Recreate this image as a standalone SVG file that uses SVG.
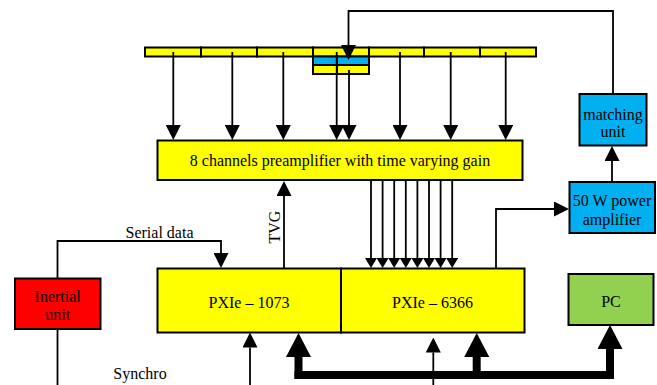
<svg xmlns="http://www.w3.org/2000/svg" width="657" height="385" viewBox="0 0 657 385">
<style>
.box{stroke:#000;stroke-width:2}
.y{fill:#FFFF00}
.b{fill:#00B0F0}
.r{fill:#FF0000}
.g{fill:#92D050}
.ln{fill:none;stroke:#000;stroke-width:1.8}
.thick{fill:none;stroke:#000;stroke-width:8}
text{font-family:"Liberation Serif","Times New Roman",serif;font-size:16px;fill:#000;text-anchor:middle}
</style>
<defs>
<marker id="a" markerUnits="userSpaceOnUse" markerWidth="15" markerHeight="15" refX="0" refY="7.5" orient="auto" viewBox="0 0 15 15"><path d="M0,0 L15,7.5 L0,15 z" fill="#000"/></marker>
<marker id="s" markerUnits="userSpaceOnUse" markerWidth="10" markerHeight="12" refX="0" refY="6" orient="auto" viewBox="0 0 10 12"><path d="M0,0 L10,6 L0,12 z" fill="#000"/></marker>
<marker id="t" markerUnits="userSpaceOnUse" markerWidth="24" markerHeight="25" refX="0" refY="12.5" orient="auto" viewBox="0 0 24 25"><path d="M0,0 L24,12.5 L0,25 z" fill="#000"/></marker>
</defs>

<g id="array">
<rect class="box y" x="145" y="47.5" width="56" height="9"/>
<rect class="box y" x="201" y="47.5" width="56" height="9"/>
<rect class="box y" x="257" y="47.5" width="56" height="9"/>
<rect class="box y" x="313" y="47.5" width="56" height="9"/>
<rect class="box y" x="369" y="47.5" width="55" height="9"/>
<rect class="box y" x="424" y="47.5" width="56" height="9"/>
<rect class="box y" x="480" y="47.5" width="56" height="9"/>
<rect class="box b" x="313" y="56.5" width="24" height="8.5"/>
<rect class="box b" x="337" y="56.5" width="32" height="8.5"/>
<rect class="box y" x="313" y="65" width="24" height="9"/>
<rect class="box y" x="337" y="65" width="32" height="9"/>
</g>

<g id="preamp">
<rect class="box y" x="157.5" y="140.5" width="365" height="39.5"/>
<text x="340" y="165.5">8 channels preamplifier with time varying gain</text>
</g>

<g id="matching">
<rect class="box b" x="579.5" y="94" width="67" height="51.5"/>
<text x="613" y="119.5">matching</text>
<text x="613" y="137">unit</text>
</g>

<g id="amplifier">
<rect class="box b" x="569.5" y="182" width="85.5" height="51"/>
<text x="612" y="206">50 W power</text>
<text x="612" y="224.5">amplifier</text>
</g>

<g id="pxie1073">
<rect class="box y" x="157.5" y="268.5" width="183.5" height="64"/>
<text x="249" y="308">PXIe – 1073</text>
</g>

<g id="pxie6366">
<rect class="box y" x="341" y="268.5" width="183.5" height="64"/>
<text x="432.5" y="308">PXIe – 6366</text>
</g>

<g id="pc">
<rect class="box g" x="568.5" y="274" width="85" height="51"/>
<text x="611" y="306.5">PC</text>
</g>

<g id="inertial">
<rect class="box r" x="15" y="278.5" width="85.5" height="50.5"/>
<text x="57.7" y="301.5">Inertial</text>
<text x="57.7" y="320">unit</text>
</g>

<g id="connectors">
<path class="ln" d="M173.3,52 V125" marker-end="url(#a)"/>
<path class="ln" d="M232.3,52 V125" marker-end="url(#a)"/>
<path class="ln" d="M283.3,52 V125" marker-end="url(#a)"/>
<path class="ln" d="M336.7,52 V125" marker-end="url(#a)"/>
<path class="ln" d="M349,70 V125" marker-end="url(#a)"/>
<path class="ln" d="M400,52 V125" marker-end="url(#a)"/>
<path class="ln" d="M450.7,52 V125" marker-end="url(#a)"/>
<path class="ln" d="M505.7,52 V125" marker-end="url(#a)"/>
<path class="ln" d="M613,94 V11 H348.5 V45" marker-end="url(#a)"/>
<path class="ln" d="M612,182 V161" marker-end="url(#a)"/>
<path class="ln" d="M496,268.5 V209 H554" marker-end="url(#a)"/>
<path class="ln" d="M371,180 V258" marker-end="url(#s)"/>
<path class="ln" d="M382.6,180 V258" marker-end="url(#s)"/>
<path class="ln" d="M394.2,180 V258" marker-end="url(#s)"/>
<path class="ln" d="M405.8,180 V258" marker-end="url(#s)"/>
<path class="ln" d="M417.4,180 V258" marker-end="url(#s)"/>
<path class="ln" d="M429,180 V258" marker-end="url(#s)"/>
<path class="ln" d="M440.6,180 V258" marker-end="url(#s)"/>
<path class="ln" d="M452.2,180 V258" marker-end="url(#s)"/>
<path class="ln" d="M284,268.5 V196" marker-end="url(#a)"/>
<text x="280" y="227" transform="rotate(-90 280 227)">TVG</text>
<path class="ln" d="M57.5,278.5 V241 H221 V253" marker-end="url(#a)"/>
<text x="159.5" y="237.5">Serial data</text>
<path class="ln" d="M57.5,329 V385"/>
<text x="140" y="379">Synchro</text>
<path class="ln" d="M250,385 V347.5" marker-end="url(#a)"/>
<path class="ln" d="M433.3,385 V352.5" marker-end="url(#a)"/>
<path class="thick" d="M294.5,375 H614"/>
<path class="thick" d="M298.5,379 V357" marker-end="url(#t)"/>
<path class="thick" d="M476.7,379 V357" marker-end="url(#t)"/>
<path class="thick" d="M610,379 V349" marker-end="url(#t)"/>
</g>
</svg>
